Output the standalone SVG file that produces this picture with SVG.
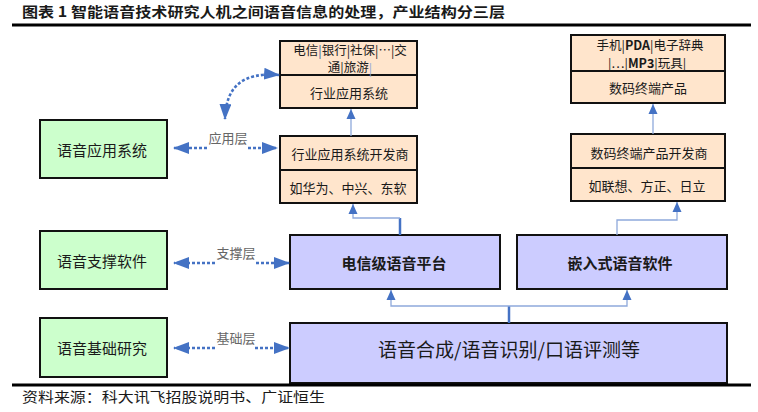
<svg xmlns="http://www.w3.org/2000/svg" width="758" height="412" viewBox="0 0 758 412">
<style>
.t{font-family:"Noto Sans CJK SC","DejaVu Sans",sans-serif;fill:#1a1a1a}
.box{stroke:#111;stroke-width:2}
.green{fill:#CCFFCC}
.peach{fill:#FFE5CC}
.purple{fill:#CCCCFF}
.dash{fill:none;stroke:#4472C4;stroke-width:2.6;stroke-dasharray:3 2}
.thin{fill:none;stroke:#8EA9DB;stroke-width:1.3}
.stub{fill:none;stroke:#4472C4;stroke-width:2.5}
.lay{font-family:"Noto Sans CJK SC",sans-serif;font-size:13px;fill:#666}
</style>
<defs>
<marker id="big" viewBox="0 0 16 12" refX="15" refY="6" markerWidth="16" markerHeight="12" markerUnits="userSpaceOnUse" orient="auto-start-reverse"><path d="M0,0 L16,6 L0,12 z" fill="#4472C4"/></marker>
<marker id="sm" viewBox="0 0 10 10" refX="10" refY="5" markerWidth="10" markerHeight="10" markerUnits="userSpaceOnUse" orient="auto-start-reverse"><path d="M0,0.5 L10,5 L0,9.5 z" fill="#4472C4"/></marker>
</defs>

<g id="header">
<text class="t" x="22" y="17" font-size="14" font-weight="bold" textLength="483" lengthAdjust="spacingAndGlyphs">图表 1 智能语音技术研究人机之间语音信息的处理，产业结构分三层</text>
<line x1="12" y1="25" x2="751" y2="25" stroke="#000" stroke-width="3"/>
</g>

<g id="n-app" class="node"><rect class="box green" x="40" y="120" width="127" height="58"/><text class="t" x="102" y="149" font-size="15" text-anchor="middle" dominant-baseline="central">语音应用系统</text></g>
<g id="n-support" class="node"><rect class="box green" x="40" y="231" width="127" height="58"/><text class="t" x="102" y="260" font-size="15" text-anchor="middle" dominant-baseline="central">语音支撑软件</text></g>
<g id="n-basic" class="node"><rect class="box green" x="40" y="318" width="127" height="59"/><text class="t" x="102" y="347" font-size="15" text-anchor="middle" dominant-baseline="central">语音基础研究</text></g>

<g id="n-industry-app" class="node"><rect class="box peach" x="280" y="41" width="137" height="67"/><line x1="280" y1="75" x2="417" y2="75" stroke="#111" stroke-width="2"/>
<text class="t" x="350" y="49" font-size="12.5" text-anchor="middle" dominant-baseline="central">电信<tspan fill="#2F5597">|</tspan>银行|社保|…|交</text>
<text class="t" x="350" y="66.5" font-size="12.5" text-anchor="middle" dominant-baseline="central">通|旅游<tspan fill="#8EA9DB">|</tspan></text>
<text class="t" x="349" y="92" font-size="13" text-anchor="middle" dominant-baseline="central">行业应用系统</text></g>

<g id="n-industry-dev" class="node"><rect class="box peach" x="280" y="136" width="137" height="67"/><line x1="280" y1="170" x2="417" y2="170" stroke="#111" stroke-width="2"/>
<text class="t" x="350" y="153" font-size="13" text-anchor="middle" dominant-baseline="central">行业应用系统开发商</text>
<text class="t" x="348" y="187" font-size="13" text-anchor="middle" dominant-baseline="central">如华为、中兴、东软</text></g>

<g id="n-digital-prod" class="node"><rect class="box peach" x="571" y="35" width="154" height="68"/><line x1="571" y1="71" x2="725" y2="71" stroke="#111" stroke-width="2"/>
<text class="t" x="650" y="44" font-size="12.5" text-anchor="middle" dominant-baseline="central">手机|<tspan font-weight="bold">PDA</tspan>|电子辞典</text>
<text class="t" x="647" y="62" font-size="12.5" text-anchor="middle" dominant-baseline="central">|…|<tspan font-weight="bold">MP3</tspan>|玩具|</text>
<text class="t" x="648" y="87" font-size="13" text-anchor="middle" dominant-baseline="central">数码终端产品</text></g>

<g id="n-digital-dev" class="node"><rect class="box peach" x="571" y="134" width="154" height="67"/><line x1="571" y1="168" x2="725" y2="168" stroke="#111" stroke-width="2"/>
<text class="t" x="649" y="152" font-size="13" text-anchor="middle" dominant-baseline="central">数码终端产品开发商</text>
<text class="t" x="647" y="185" font-size="13" text-anchor="middle" dominant-baseline="central">如联想、方正、日立</text></g>

<g id="n-platform" class="node"><rect class="box purple" x="290" y="235" width="210" height="54"/><text class="t" x="394" y="262" font-size="15" font-weight="bold" text-anchor="middle" dominant-baseline="central">电信级语音平台</text></g>
<g id="n-embedded" class="node"><rect class="box purple" x="517" y="235" width="210" height="54"/><text class="t" x="620" y="262" font-size="15" font-weight="bold" text-anchor="middle" dominant-baseline="central">嵌入式语音软件</text></g>
<g id="n-tech" class="node"><rect class="box purple" x="290" y="323" width="437" height="60"/><text class="t" x="509" y="348" font-size="19" text-anchor="middle" dominant-baseline="central">语音合成/语音识别/口语评测等</text></g>

<g id="connectors">
<path class="dash" d="M207,148 H174" marker-end="url(#big)"/>
<path class="dash" d="M248,148 H277" marker-end="url(#big)"/>
<text class="lay" x="228" y="143" text-anchor="middle">应用层</text>
<path class="dash" d="M215,263 H174" marker-end="url(#big)"/>
<path class="dash" d="M256,263 H289" marker-end="url(#big)"/>
<text class="lay" x="236" y="258" text-anchor="middle">支撑层</text>
<path class="dash" d="M215,348 H174" marker-end="url(#big)"/>
<path class="dash" d="M255,348 H289" marker-end="url(#big)"/>
<text class="lay" x="236" y="343" text-anchor="middle">基础层</text>
<path class="dash" d="M279,75 C243,72 226,86 225,119" marker-start="url(#big)" marker-end="url(#big)"/>

<path class="stub" d="M509,323 V306"/>
<path class="thin" d="M391,290 V306 H627 V290" marker-start="url(#sm)" marker-end="url(#sm)"/>
<path class="stub" d="M400,235 V218"/>
<path class="thin" d="M400,218 H353 V204" marker-end="url(#sm)"/>
<path class="thin" d="M617,235 V220 H677 V202" marker-end="url(#sm)"/>
<path class="thin" d="M351,136 V109" marker-end="url(#sm)"/>
<path class="thin" d="M653,134 V104" marker-end="url(#sm)"/>
</g>

<g id="footer">
<line x1="12" y1="385" x2="751" y2="385" stroke="#000" stroke-width="3"/>
<text class="t" x="22" y="402" font-size="14" textLength="303" lengthAdjust="spacingAndGlyphs">资料来源：科大讯飞招股说明书、广证恒生</text>
</g>
</svg>
